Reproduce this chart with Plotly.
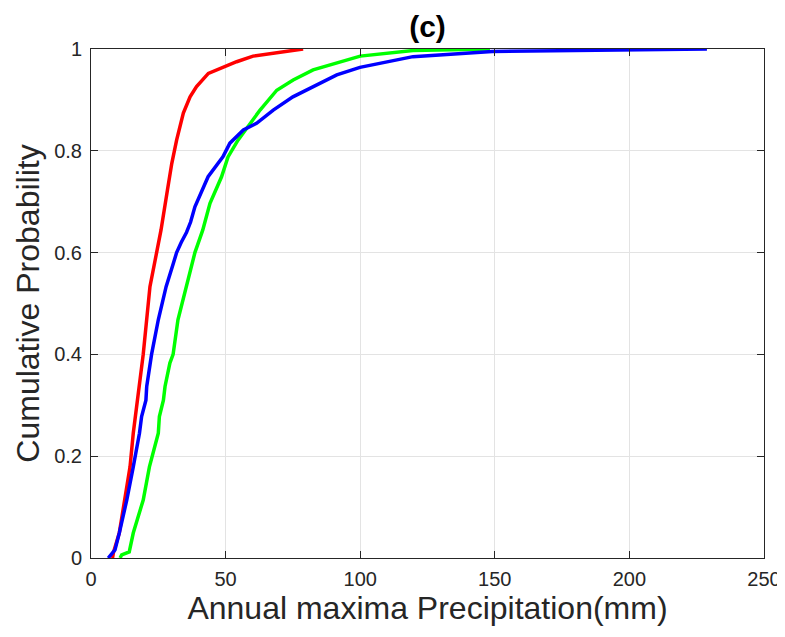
import plotly.graph_objects as go

red_x = [8.0, 8.3, 10.5, 12.6, 14.5, 15.7, 16.5, 17.3, 19.4, 21.9, 24.4, 26.0, 28.4, 30.0, 31.8,
         34.3, 36.8, 39.2, 43.6, 49.2, 54.1, 60.2, 67.7, 78.8]
red_y = [0.0, 0.01, 0.049, 0.114, 0.179, 0.245, 0.278, 0.31, 0.4, 0.533, 0.6, 0.644, 0.723, 0.775,
         0.821, 0.874, 0.906, 0.926, 0.952, 0.965, 0.975, 0.986, 0.992, 1.0]

blue_x = [6.4, 7.5, 8.9, 10.5, 13.3, 15.7, 18.0, 18.8, 20.4, 20.7, 22.5, 25.0, 27.9, 30.6, 31.8,
          33.5, 35.5, 37.0, 38.6, 43.5, 49.0, 51.6, 56.6, 61.5, 67.7, 75.0, 82.5, 91.3, 99.9,
          119.6, 149.0, 199.0, 228.8]
blue_y = [0.0, 0.006, 0.016, 0.049, 0.114, 0.179, 0.245, 0.278, 0.31, 0.337, 0.4, 0.468, 0.533,
          0.579, 0.6, 0.62, 0.64, 0.66, 0.69, 0.749, 0.788, 0.815, 0.841, 0.854, 0.88, 0.906,
          0.926, 0.949, 0.964, 0.985, 0.995, 0.998, 1.0]

green_x = [10.8, 11.4, 14.2, 15.7, 19.4, 21.7, 25.0, 25.4, 26.9, 27.5, 29.3, 30.5, 32.3, 35.5,
           38.6, 41.5, 44.2, 48.5, 50.9, 54.6, 59.0, 62.8, 69.0, 75.1, 82.5, 91.3, 100.0, 119.6,
           148.2]
green_y = [0.0, 0.006, 0.012, 0.049, 0.114, 0.179, 0.245, 0.278, 0.31, 0.337, 0.383, 0.4, 0.468,
           0.533, 0.6, 0.644, 0.697, 0.749, 0.788, 0.821, 0.854, 0.88, 0.919, 0.939, 0.959, 0.972,
           0.986, 0.997, 1.0]

x_ticks = [0, 50, 100, 150, 200, 250]
y_ticks = [0, 0.2, 0.4, 0.6, 0.8, 1]
y_tick_text = ["0", "0.2", "0.4", "0.6", "0.8", "1"]

fig = go.Figure()
for xs, ys, col in [(red_x, red_y, "#FF0000"), (green_x, green_y, "#00FF00"), (blue_x, blue_y, "#0000FF")]:
    fig.add_trace(go.Scatter(x=xs, y=ys, mode="lines", line=dict(color=col, width=3.5),
                             showlegend=False, cliponaxis=False))

axis_common = dict(
    showline=True, linecolor="#262626", linewidth=1, mirror="ticks",
    ticks="inside", ticklen=7, tickcolor="#262626",
    showgrid=True, gridcolor="#e3e3e3", gridwidth=1, zeroline=False,
    tickfont=dict(family="Arial, Liberation Sans", size=20, color="#262626"),
)

fig.update_xaxes(range=[0, 250], tickvals=x_ticks, ticklabelstandoff=3,
                 title=dict(text="Annual maxima Precipitation(mm)",
                            font=dict(family="Arial, Liberation Sans", size=32, color="#262626"),
                            standoff=4),
                 **axis_common)
fig.update_yaxes(range=[0, 1], tickvals=y_ticks, ticktext=y_tick_text, ticklabelstandoff=4,
                 title=dict(text="Cumulative Probability",
                            font=dict(family="Arial, Liberation Sans", size=32, color="#262626"),
                            standoff=4),
                 **axis_common)

# page body has an 8px margin, so figure coords = page coords - 8
fig.update_layout(
    width=777, height=629,
    margin=dict(l=83, r=21, t=41, b=79, autoexpand=False),
    paper_bgcolor="white", plot_bgcolor="white",
    title=dict(text="<b>(c)</b>", x=(419.5 / 777), xanchor="center",
               y=1 - 18 / 629, yanchor="middle",
               font=dict(family="Arial, Liberation Sans", size=30, color="black")),
)

fig.write_html("out.html")
